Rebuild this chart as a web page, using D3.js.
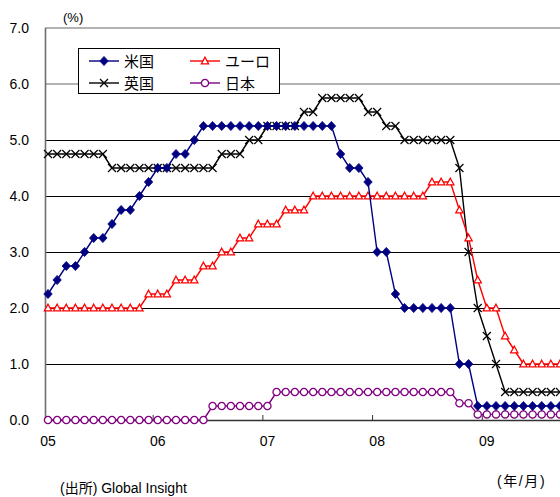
<!DOCTYPE html>
<html>
<head>
<meta charset="utf-8">
<script src="https://cdn.jsdelivr.net/npm/d3@7/dist/d3.min.js"></script>
<style>
  html, body { margin: 0; padding: 0; background: #fff; }
  svg { display: block; }
  text { font-family: "Liberation Sans", Arial, "Noto Sans CJK JP", sans-serif; fill: #000; }
  .cjk { font-family: "Liberation Sans", Arial, "Noto Sans CJK JP", sans-serif; }
</style>
</head>
<body>
<svg id="chart" width="560" height="497"></svg>
<script>
// Month-end policy rates (%), January 2005 - September 2009
const months = [
  "2005-01","2005-02","2005-03","2005-04","2005-05","2005-06","2005-07","2005-08","2005-09","2005-10","2005-11","2005-12",
  "2006-01","2006-02","2006-03","2006-04","2006-05","2006-06","2006-07","2006-08","2006-09","2006-10","2006-11","2006-12",
  "2007-01","2007-02","2007-03","2007-04","2007-05","2007-06","2007-07","2007-08","2007-09","2007-10","2007-11","2007-12",
  "2008-01","2008-02","2008-03","2008-04","2008-05","2008-06","2008-07","2008-08","2008-09","2008-10","2008-11","2008-12",
  "2009-01","2009-02","2009-03","2009-04","2009-05","2009-06","2009-07","2009-08","2009-09"
];

const usRate = [
  2.25,2.5,2.75,2.75,3.0,3.25,3.25,3.5,3.75,3.75,4.0,4.25,
  4.5,4.5,4.75,4.75,5.0,5.25,5.25,5.25,5.25,5.25,5.25,5.25,
  5.25,5.25,5.25,5.25,5.25,5.25,5.25,5.25,4.75,4.5,4.5,4.25,
  3.0,3.0,2.25,2.0,2.0,2.0,2.0,2.0,2.0,1.0,1.0,0.25,
  0.25,0.25,0.25,0.25,0.25,0.25,0.25,0.25,0.25
];

const euroRate = [
  2.0,2.0,2.0,2.0,2.0,2.0,2.0,2.0,2.0,2.0,2.0,2.25,
  2.25,2.25,2.5,2.5,2.5,2.75,2.75,3.0,3.0,3.25,3.25,3.5,
  3.5,3.5,3.75,3.75,3.75,4.0,4.0,4.0,4.0,4.0,4.0,4.0,
  4.0,4.0,4.0,4.0,4.0,4.0,4.25,4.25,4.25,3.75,3.25,2.5,
  2.0,2.0,1.5,1.25,1.0,1.0,1.0,1.0,1.0
];

const ukRate = [
  4.75,4.75,4.75,4.75,4.75,4.75,4.75,4.5,4.5,4.5,4.5,4.5,
  4.5,4.5,4.5,4.5,4.5,4.5,4.5,4.75,4.75,4.75,5.0,5.0,
  5.25,5.25,5.25,5.25,5.5,5.5,5.75,5.75,5.75,5.75,5.75,5.5,
  5.5,5.25,5.25,5.0,5.0,5.0,5.0,5.0,5.0,4.5,3.0,2.0,
  1.5,1.0,0.5,0.5,0.5,0.5,0.5,0.5,0.5
];

const japanRate = [
  0,0,0,0,0,0,0,0,0,0,0,0,
  0,0,0,0,0,0,0.25,0.25,0.25,0.25,0.25,0.25,
  0.25,0.5,0.5,0.5,0.5,0.5,0.5,0.5,0.5,0.5,0.5,0.5,
  0.5,0.5,0.5,0.5,0.5,0.5,0.5,0.5,0.5,0.3,0.3,0.1,
  0.1,0.1,0.1,0.1,0.1,0.1,0.1,0.1,0.1
];

const yearLabels = ["05","06","07","08","09"];
const yTicks = [0,1,2,3,4,5,6,7];

const seriesList = [
  { name: "米国",   values: usRate,    color: "#000080", marker: "diamond" },
  { name: "ユーロ", values: euroRate,  color: "#FF0000", marker: "triangle" },
  { name: "英国",   values: ukRate,    color: "#000000", marker: "cross" },
  { name: "日本",   values: japanRate, color: "#800080", marker: "circle" }
];

const svg = d3.select("#chart");

const x = d3.scaleLinear().domain([0, months.length - 1]).range([48, 560]);
const y = d3.scaleLinear().domain([0, 7]).range([420, 28]);

// horizontal gridlines
svg.append("g").selectAll("line")
  .data(yTicks.filter(v => v > 0))
  .join("line")
  .attr("x1", 45).attr("x2", 560)
  .attr("y1", d => (d >= 6 ? y(d) : y(d) + 0.5))
  .attr("y2", d => (d >= 6 ? y(d) : y(d) + 0.5))
  .attr("stroke", d => (d >= 6 ? "#666" : "#000"))
  .attr("stroke-width", 1);

// y axis line and labels
svg.append("line")
  .attr("x1", 45.5).attr("x2", 45.5)
  .attr("y1", y(7)).attr("y2", y(0) + 1)
  .attr("stroke", "#6e6e6e").attr("stroke-width", 1.6);

svg.append("g").selectAll("text")
  .data(yTicks)
  .join("text")
  .attr("x", 29)
  .attr("y", d => y(d) + 5)
  .attr("text-anchor", "end")
  .attr("font-size", 14)
  .text(d => d3.format(".1f")(d));

svg.append("text")
  .attr("x", 63).attr("y", 22)
  .attr("font-size", 13)
  .text("(%)");

// x axis baseline, year ticks and labels
svg.append("line")
  .attr("x1", 45).attr("x2", 560)
  .attr("y1", y(0) + 0.5).attr("y2", y(0) + 0.5)
  .attr("stroke", "#333").attr("stroke-width", 1.3);

const yearStarts = yearLabels.map((_, k) => k * 12);
svg.append("g").selectAll("line")
  .data(yearStarts.filter(i => i > 0))
  .join("line")
  .attr("x1", i => x(i - 0.5)).attr("x2", i => x(i - 0.5))
  .attr("y1", y(0)).attr("y2", y(0) - 5)
  .attr("stroke", "#333").attr("stroke-width", 1);

svg.append("g").selectAll("text")
  .data(yearLabels)
  .join("text")
  .attr("x", (d, k) => x(yearStarts[k]))
  .attr("y", 446)
  .attr("text-anchor", "middle")
  .attr("font-size", 14)
  .text(d => d);

// marker shapes
function drawMarker(sel, type, color) {
  if (type === "diamond") {
    sel.append("path").attr("d", "M0,-4.6L4.2,0L0,4.6L-4.2,0Z")
      .attr("fill", color).attr("stroke", color).attr("stroke-width", 0.8);
  } else if (type === "triangle") {
    sel.append("path").attr("d", "M0,-3.8L3.6,2.8L-3.6,2.8Z")
      .attr("fill", "#fff").attr("stroke", color).attr("stroke-width", 1.3);
  } else if (type === "cross") {
    sel.append("path").attr("d", "M-4,-4L4,4M-4,4L4,-4")
      .attr("fill", "none").attr("stroke", color).attr("stroke-width", 1.2);
  } else {
    sel.append("circle").attr("r", 3.6)
      .attr("fill", "#fff").attr("stroke", color).attr("stroke-width", 1.3);
  }
}

const line = d3.line().x((d, i) => x(i)).y(d => y(d));

const plot = svg.append("g");
// draw in back-to-front order: Japan, UK, Euro, US on top
const drawOrder = [seriesList[3], seriesList[2], seriesList[1], seriesList[0]];
drawOrder.forEach(s => {
  const g = plot.append("g");
  g.append("path")
    .attr("d", line(s.values))
    .attr("fill", "none")
    .attr("stroke", s.color)
    .attr("stroke-width", 1.4);
  g.selectAll("g.pt")
    .data(s.values)
    .join("g")
    .attr("class", "pt")
    .attr("transform", (d, i) => `translate(${x(i)},${y(d)})`)
    .each(function () { drawMarker(d3.select(this), s.marker, s.color); });
});

// legend
const legend = svg.append("g");
legend.append("rect")
  .attr("x", 78.5).attr("y", 48.5)
  .attr("width", 201).attr("height", 45)
  .attr("fill", "#fff").attr("stroke", "#000").attr("stroke-width", 1);

const legendPos = [
  { s: seriesList[0], lx: 89,  ly: 61 },
  { s: seriesList[1], lx: 190, ly: 61 },
  { s: seriesList[2], lx: 89,  ly: 83 },
  { s: seriesList[3], lx: 190, ly: 83 }
];
legendPos.forEach(p => {
  legend.append("line")
    .attr("x1", p.lx).attr("x2", p.lx + 30)
    .attr("y1", p.ly).attr("y2", p.ly)
    .attr("stroke", p.s.color).attr("stroke-width", 1.4);
  const m = legend.append("g").attr("transform", `translate(${p.lx + 15},${p.ly})`);
  drawMarker(m, p.s.marker, p.s.color);
  legend.append("text")
    .attr("class", "cjk")
    .attr("x", p.lx + 35).attr("y", p.ly + 5.5)
    .attr("font-size", 15)
    .text(p.s.name);
});

// notes
svg.append("text")
  .attr("class", "cjk")
  .attr("x", 497).attr("y", 486)
  .attr("font-size", 14)
  .attr("letter-spacing", 1.6)
  .text("(年/月)");

svg.append("text")
  .attr("class", "cjk")
  .attr("x", 60).attr("y", 493)
  .attr("font-size", 14)
  .text("(出所) Global Insight");
</script>
</body>
</html>
